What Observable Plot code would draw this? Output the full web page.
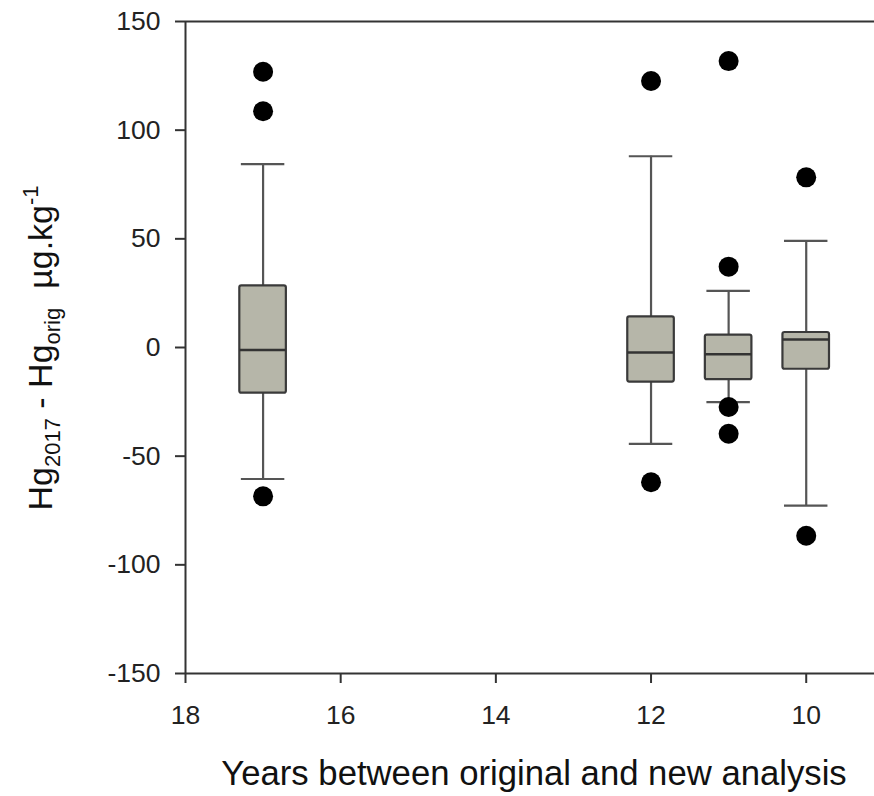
<!DOCTYPE html>
<html><head><meta charset="utf-8">
<script src="https://cdn.jsdelivr.net/npm/d3@7"></script>
<script src="https://cdn.jsdelivr.net/npm/@observablehq/plot@0.6"></script>
<style>body{margin:0;background:#fff}</style>
</head><body><div id="chart"></div>
<script>
// Data
const years       = [17, 12, 11, 10];
const whiskerLow  = [-60.5, -44.3, -25.1, -72.8];
const q1          = [-21.0, -15.9, -14.8, -10.0];
const median      = [-1.2, -2.3, -3.1, 3.7];
const q3          = [28.4, 14.1, 5.7, 6.9];
const whiskerHigh = [84.4, 88.0, 26.1, 49.1];
const outlierYears  = [17, 17, 17, 12, 12, 11, 11, 11, 11, 10, 10];
const outlierValues = [126.9, 108.7, -68.5, 122.6, -62.0, 131.8, 37.2, -27.4, -39.7, 78.3, -86.6];
const xTicks = [18, 16, 14, 12, 10];
const yTicks = [-150, -100, -50, 0, 50, 100, 150];
const xDomain = [18, 9.12];
const yDomain = [-150, 150];

const boxHalf = 0.3, capHalf = 0.28;
const boxes = years.map((y, i) => ({year: y, lo: whiskerLow[i], q1: q1[i], med: median[i], q3: q3[i], hi: whiskerHigh[i]}));
const outliers = outlierYears.map((y, i) => ({year: y, value: outlierValues[i]}));

const W = 874, H = 796, ML = 185, MT = 21, MB = 123, MR = 0;
const lineColor = "#333";

const plot = Plot.plot({
  width: W, height: H,
  marginLeft: ML, marginTop: MT, marginBottom: MB, marginRight: MR,
  style: {fontFamily: "'Liberation Sans', Arial, sans-serif", background: "#fff", color: "#222"},
  x: {domain: xDomain, ticks: xTicks},
  y: {domain: yDomain, ticks: yTicks},
  marks: [
    Plot.axisX({ticks: xTicks, tickSize: 10, tickPadding: 22, fontSize: 26.5, strokeWidth: 2, stroke: lineColor, fill: "#222", label: null, tickFormat: d => String(d)}),
    Plot.axisY({ticks: yTicks, tickSize: 10, tickPadding: 15, fontSize: 26.5, strokeWidth: 2, stroke: lineColor, fill: "#222", label: null, tickFormat: d => String(d)}),
    // frame lines (left, bottom, top)
    Plot.ruleX([xDomain[0]], {stroke: lineColor, strokeWidth: 2}),
    Plot.ruleY([yDomain[0]], {stroke: lineColor, strokeWidth: 2}),
    Plot.ruleY([yDomain[1]], {stroke: lineColor, strokeWidth: 2}),
    // whiskers
    Plot.ruleX(boxes, {x: "year", y1: "lo", y2: "hi", stroke: "#555", strokeWidth: 2.2}),
    Plot.ruleY(boxes, {y: "lo", x1: d => d.year - capHalf, x2: d => d.year + capHalf, stroke: "#555", strokeWidth: 2.2}),
    Plot.ruleY(boxes, {y: "hi", x1: d => d.year - capHalf, x2: d => d.year + capHalf, stroke: "#555", strokeWidth: 2.2}),
    // boxes
    Plot.rect(boxes, {x1: d => d.year - boxHalf, x2: d => d.year + boxHalf, y1: "q1", y2: "q3", fill: "#b6b6a9", stroke: "#3a3a3a", strokeWidth: 2.2, rx: 2}),
    Plot.ruleY(boxes, {y: "med", x1: d => d.year - boxHalf, x2: d => d.year + boxHalf, stroke: "#333", strokeWidth: 2.5}),
    // outliers
    Plot.dot(outliers, {x: "year", y: "value", r: 10, fill: "#000", stroke: null})
  ]
});

const svg = d3.select(plot);
// X axis title
svg.append("text")
  .attr("x", 534)
  .attr("y", 785)
  .attr("text-anchor", "middle")
  .attr("font-size", 34.7)
  .attr("fill", "#111")
  .text("Years between original and new analysis");

// Y axis title with subscripts / superscript
const yl = svg.append("text")
  .attr("transform", "translate(52,348) rotate(-90)")
  .attr("text-anchor", "middle")
  .attr("font-size", 34)
  .attr("fill", "#111");
yl.append("tspan").text("Hg");
yl.append("tspan").attr("font-size", 22).attr("dy", 8).text("2017");
yl.append("tspan").attr("dy", -8).text(" - Hg");
yl.append("tspan").attr("font-size", 22).attr("dy", 8).text("orig");
yl.append("tspan").attr("dy", -8).text("\u00a0\u00a0µg.kg");
yl.append("tspan").attr("font-size", 22).attr("dy", -14).text("-1");

document.getElementById("chart").appendChild(plot);
</script>
</body></html>
